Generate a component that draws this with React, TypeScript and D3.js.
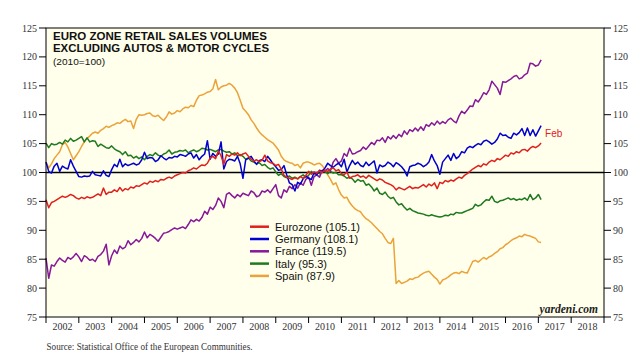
import React from 'react';
import * as d3 from 'd3';

// Monthly data, Jan 2002 .. Feb 2017 (2010=100)
const START_YEAR = 2002;

const eurozone = [
  95.3, 93.9, 94.8, 95.0, 95.3, 95.6, 95.9, 95.7, 95.9, 96.2, 96.0, 95.6,
  95.4, 95.7, 95.5, 95.8, 95.6, 95.7, 96.0, 96.3, 96.0, 97.3, 96.2, 96.6,
  96.6, 97.0, 96.7, 97.4, 96.8, 97.2, 97.0, 97.5, 97.3, 97.7, 97.6, 97.9,
  98.2, 98.0, 98.5, 98.3, 98.6, 98.4, 98.8, 98.7, 99.0, 99.2, 99.0, 99.4,
  99.6, 99.8, 100.0, 99.9, 100.3, 100.5, 100.8, 100.6, 101.0, 101.3, 101.2, 101.6,
  102.5, 102.8, 102.4, 103.7, 102.9, 101.4, 103.1, 102.8, 103.2, 103.0, 103.4, 102.9,
  103.2, 103.4, 102.8, 102.3, 102.0, 102.2, 101.9, 102.1, 103.0, 102.0, 101.7, 101.6,
  101.2, 101.4, 100.6, 99.5, 99.2, 99.0, 98.8, 99.1, 98.9, 99.3, 99.0, 99.5,
  100.2, 99.7, 100.1, 99.9, 100.3, 100.0, 100.4, 100.2, 100.6, 100.8, 100.3, 100.5,
  99.8, 99.6, 100.1, 99.0, 99.3, 99.4, 99.6, 99.2, 99.4, 99.0, 99.5, 99.2,
  98.9, 98.6, 98.9, 98.7, 98.3, 98.1, 97.9, 97.6, 97.0, 97.4, 97.2, 97.0,
  97.3, 97.6, 97.2, 97.4, 97.3, 97.6, 97.9, 97.5, 98.0, 97.7, 98.2, 97.2,
  98.3, 98.1, 98.6, 98.4, 98.7, 98.5, 98.9, 99.2, 99.0, 99.5, 99.8, 100.2,
  100.6, 100.9, 101.2, 101.0, 101.5, 101.3, 101.8, 102.1, 101.9, 102.4, 102.2, 102.6,
  103.0, 102.8, 103.4, 103.2, 103.6, 103.4, 103.9, 104.0, 103.7, 104.2, 104.5, 104.3,
  104.6, 105.1,
];

const germany = [
  101.8, 100.2, 99.9, 101.1, 101.6, 100.2, 101.1, 100.8, 100.6, 102.2, 101.1, 100.2,
  99.3, 99.2, 99.4, 99.3, 99.4, 100.2, 99.6, 99.5, 99.4, 100.3, 99.5, 99.3,
  100.5, 101.4, 101.0, 102.3, 101.0, 101.5, 101.2, 101.4, 101.6, 101.3, 101.5, 102.2,
  103.5, 102.4, 102.6, 102.5, 101.9, 102.2, 102.9, 102.5, 102.2, 102.6, 102.5, 102.8,
  102.7, 103.1, 103.0, 102.8, 103.2, 103.4, 102.5, 103.1, 102.2, 102.8, 103.2, 105.5,
  102.3, 103.3, 102.8, 103.2, 105.3, 100.6, 101.9, 102.3, 102.2, 102.0, 102.8, 101.5,
  99.0, 102.2, 102.5, 102.8, 102.0, 101.4, 102.1, 102.2, 101.9, 102.8, 102.2, 101.5,
  101.0, 100.4, 100.5, 101.2, 99.6, 98.2, 97.9, 96.8, 98.3, 98.0, 98.9, 99.4,
  99.0, 98.8, 100.0, 99.6, 100.4, 100.2, 100.8, 101.6, 101.2, 100.9, 101.3, 101.6,
  101.0, 102.3, 100.1, 101.2, 102.1, 101.4, 101.8, 101.2, 101.0, 101.8, 101.2, 101.6,
  102.0, 99.9, 101.3, 101.0, 101.2, 101.8, 101.5, 101.0, 101.7, 101.4, 101.0, 100.4,
  99.4, 101.0, 101.2, 101.3, 101.6, 101.4, 101.0, 101.3, 101.8, 103.1, 102.0, 101.2,
  99.7, 101.8, 102.4, 103.0, 102.1, 103.3, 102.4, 102.8, 103.6, 103.4, 104.2, 104.5,
  104.3, 104.7, 105.0, 104.8, 105.4, 105.6, 105.3, 104.9, 105.2, 105.8, 106.8, 106.4,
  106.5, 106.1, 105.9, 106.8, 106.5, 106.9, 107.6, 106.4, 107.7, 106.4, 107.4, 106.3,
  107.2, 108.1,
];

const france = [
  85.2, 81.7, 84.0, 83.8, 84.6, 85.2, 84.8, 84.5, 85.3, 85.0, 85.4, 86.0,
  85.4, 84.6, 85.6, 85.3, 84.8, 85.0, 84.6, 85.5, 85.8, 86.4, 87.6, 84.0,
  85.6, 86.6, 86.0, 87.3, 86.8, 87.1, 88.2, 87.5, 87.9, 88.4, 88.0, 88.6,
  89.7, 88.7, 89.3, 89.0, 88.6, 88.1, 88.8, 89.5, 89.6, 89.8, 90.1, 90.4,
  90.2, 90.4, 90.6, 90.3, 91.0, 91.8, 91.5, 91.9, 91.6, 92.2, 93.3, 92.8,
  94.0, 93.6, 94.3, 95.6, 95.0, 93.9, 96.2, 96.5, 96.0, 95.6, 96.2, 95.8,
  96.4, 96.2, 96.0, 96.8, 96.5, 95.8, 96.0, 96.8, 96.6, 97.0, 96.5, 97.2,
  97.9, 96.0, 95.6, 97.0, 96.6, 97.6, 97.2, 97.9, 97.3, 98.2, 97.8, 98.8,
  99.2, 97.8, 99.3, 99.6, 99.2, 100.4, 100.2, 100.7, 100.3, 101.8, 102.4, 101.6,
  102.0, 103.3, 102.8, 104.2, 103.2, 103.3, 103.6, 103.8, 104.4, 104.0, 104.6, 105.2,
  104.8, 105.6, 105.5, 106.0, 105.2, 106.2, 105.8, 106.4, 105.9, 106.6, 106.2, 107.2,
  106.6, 107.4, 107.1, 107.7, 107.2, 107.9, 107.3, 108.3, 108.0, 108.6, 108.2, 108.9,
  108.4, 108.8, 108.5, 109.1, 109.4, 108.9, 108.6, 109.8, 110.6, 110.2, 110.8, 111.5,
  111.4, 112.6, 112.2, 112.9, 113.8, 113.5, 114.3, 115.8, 115.2, 114.6, 113.5, 115.7,
  115.6, 115.9, 116.2, 116.6, 116.8, 116.2, 116.4, 116.9, 117.2, 118.9, 118.8, 118.4,
  118.6, 119.5,
];

const italy = [
  105.1, 104.3, 105.0, 104.8, 104.9, 105.2, 104.9, 105.6, 105.3, 105.9, 105.4, 105.6,
  105.9, 106.2, 105.3, 106.0, 105.3, 105.5, 105.4, 104.5, 104.9, 104.6, 104.3, 104.2,
  104.6, 104.1, 103.8, 103.6, 103.1, 103.6, 102.9, 103.0, 102.5, 102.8, 102.4, 102.7,
  102.2, 102.8, 103.1, 102.9, 103.4, 103.0, 102.8, 103.2, 103.4, 103.9, 103.2, 103.5,
  103.6, 103.8, 103.7, 103.9, 103.4, 103.7, 103.9, 103.6, 103.8, 104.2, 104.1, 103.9,
  104.0, 103.8, 103.6, 103.9, 104.0, 103.7, 103.5, 103.6, 103.2, 103.4, 102.9, 103.1,
  102.8, 102.3, 102.5, 102.0, 101.8, 101.5, 101.7, 101.2, 101.4, 100.9, 100.6, 100.8,
  100.1, 99.5, 99.8, 99.3, 99.1, 99.4, 99.0, 99.2, 98.9, 99.3, 99.6, 99.2,
  99.5, 100.2, 99.7, 100.0, 99.8, 100.3, 100.1, 99.8, 100.2, 99.9, 100.0, 99.6,
  99.6, 99.4, 99.0, 99.2, 98.9, 98.3, 98.8, 98.5, 98.6, 97.8, 98.0, 97.5,
  96.8, 97.3, 96.4, 96.2, 96.6, 95.9, 95.5, 95.7, 94.9, 94.4, 94.6, 94.0,
  93.5, 93.8, 93.4, 93.2, 93.0, 92.9, 92.8, 92.6, 92.5, 92.7, 92.5, 92.4,
  92.3, 92.4, 92.6, 92.5, 92.8, 92.7, 93.1, 93.0, 93.0, 93.2, 93.4, 93.6,
  93.8, 94.5, 94.2, 94.4, 94.9, 95.3, 95.2, 95.9, 95.0, 94.8, 95.1, 95.2,
  95.4, 95.6, 95.3, 95.5, 95.2, 95.4, 95.3, 95.6, 95.2, 96.2, 95.3, 95.6,
  96.2, 95.3,
];

const spain = [
  101.8, 100.8, 101.5, 102.4, 103.0, 103.6, 104.8, 105.2, 104.4, 103.3, 102.2, 102.9,
  103.6, 104.5, 105.3, 105.9, 106.3, 106.8, 107.0, 106.8, 107.3, 107.6, 108.0, 107.8,
  108.1, 108.3, 108.6, 108.5, 108.9, 109.2, 108.8, 108.9, 107.6, 109.2, 110.0, 109.9,
  110.0, 110.2, 110.3, 109.8, 109.7, 109.9, 109.4, 109.0, 109.6, 110.5, 110.1, 110.3,
  110.7, 110.5, 111.0, 111.3, 111.2, 111.6, 111.4, 112.5, 113.3, 113.4, 113.6, 113.9,
  114.0, 114.5, 116.1, 114.3, 114.8, 115.0, 115.1, 115.4, 115.1, 114.6, 113.8, 112.5,
  111.1, 110.6, 110.0, 109.1, 108.5, 107.7, 107.0, 106.5, 106.1, 105.7, 105.4, 105.1,
  104.5, 103.9, 102.8, 102.2, 101.9, 101.7, 101.6, 101.2, 101.4, 100.8, 101.6, 101.8,
  101.8, 101.6, 101.3, 101.5, 101.6, 101.2, 100.5, 99.6, 98.8, 97.9, 98.2, 97.0,
  96.1, 95.6, 95.7, 94.8, 94.2, 93.7, 93.4, 93.2, 92.5, 92.0, 91.7, 91.3,
  90.8, 90.3, 89.8, 89.4, 88.6, 87.9, 87.7, 88.6, 80.8, 81.3, 80.8, 81.0,
  81.2, 81.6, 81.5, 81.8, 81.9, 82.3, 82.6, 82.8, 82.9, 82.4, 81.9, 81.5,
  80.7, 81.4, 81.6, 81.9, 82.3, 82.6, 82.7, 82.5, 82.9, 82.7, 82.6, 83.6,
  84.6, 84.8, 84.5, 84.9, 85.3, 85.0, 85.4, 85.6, 86.0, 86.3, 86.8, 87.0,
  87.5, 87.8, 88.2, 88.5, 88.7, 89.0, 88.9, 89.3, 89.1, 89.0, 88.8, 88.6,
  88.0, 87.9,
];

const seriesNames = ['Eurozone', 'Germany', 'France', 'Italy', 'Spain'];
const latestValues = ['105.1', '108.1', '119.5', '95.3', '87.9'];
const yTicks = [75, 80, 85, 90, 95, 100, 105, 110, 115, 120, 125];
const yearLabels = [2002, 2003, 2004, 2005, 2006, 2007, 2008, 2009, 2010, 2011, 2012, 2013, 2014, 2015, 2016, 2017, 2018];
const lastMonthLabel = 'Feb';

const colors: Record<string, string> = {
  Eurozone: '#E0201E',
  Germany: '#0000D0',
  France: '#86189A',
  Italy: '#1E7A1E',
  Spain: '#EBA23A',
};

const seriesData: Record<string, number[]> = {
  Eurozone: eurozone,
  Germany: germany,
  France: france,
  Italy: italy,
  Spain: spain,
};

const drawOrder = ['Spain', 'Italy', 'France', 'Germany', 'Eurozone'];

export default function App() {
  const W = 644;
  const H = 358;
  const left = 46, right = 604, top = 28, bottom = 317;
  const x = d3.scaleLinear().domain([2002, 2019]).range([left, right]);
  const y = d3.scaleLinear().domain([75, 125]).range([bottom, top]);
  const line = d3
    .line<number>()
    .x((_, i) => x(START_YEAR + i / 12))
    .y((d) => y(d));

  const axisFont = "'Liberation Serif', 'Times New Roman', serif";
  const sansFont = "'Liberation Sans', Arial, sans-serif";
  const yearTicks = d3.range(2002, 2020);

  const euroLast = eurozone[eurozone.length - 1];
  const euroLastX = x(START_YEAR + (eurozone.length - 1) / 12);

  return (
    <svg width={W} height={H} style={{ position: 'absolute', left: 0, top: 0, background: '#fff' }}>
      <rect x={left} y={top} width={right - left} height={bottom - top} fill="#FFFFEB" />
      {/* 100 reference line */}
      <line x1={left} x2={right} y1={y(100)} y2={y(100)} stroke="#000" strokeWidth={1.3} />
      {drawOrder.map((name) => (
        <path
          key={name}
          d={line(seriesData[name]) || ''}
          fill="none"
          stroke={colors[name]}
          strokeWidth={1.5}
          strokeLinejoin="round"
        />
      ))}
      {/* frame */}
      <rect x={left} y={top} width={right - left} height={bottom - top} fill="none" stroke="#000" strokeWidth={1} />
      {/* y ticks */}
      {yTicks.map((t) => (
        <g key={t}>
          <line x1={left - 7} x2={left} y1={y(t)} y2={y(t)} stroke="#000" strokeWidth={1} />
          <line x1={right} x2={right + 7} y1={y(t)} y2={y(t)} stroke="#000" strokeWidth={1} />
          <text x={left - 9} y={y(t) + 3.5} textAnchor="end" fontFamily={axisFont} fontSize={10} fill="#333">
            {t}
          </text>
          <text x={right + 9} y={y(t) + 3.5} textAnchor="start" fontFamily={axisFont} fontSize={10} fill="#333">
            {t}
          </text>
        </g>
      ))}
      {/* x ticks */}
      {yearTicks.map((yr) => (
        <line key={yr} x1={x(yr)} x2={x(yr)} y1={bottom} y2={bottom + 6} stroke="#000" strokeWidth={1} />
      ))}
      {yearLabels.map((yr) => (
        <text key={yr} x={x(yr + 0.5)} y={329.5} textAnchor="middle" fontFamily={axisFont} fontSize={10} fill="#333">
          {yr}
        </text>
      ))}
      {/* title */}
      <text x={53} y={39.5} fontFamily={sansFont} fontWeight="bold" fontSize={11} fill="#111" textLength={214} lengthAdjust="spacingAndGlyphs">
        EURO ZONE RETAIL SALES VOLUMES
      </text>
      <text x={53} y={51.5} fontFamily={sansFont} fontWeight="bold" fontSize={11} fill="#111" textLength={216} lengthAdjust="spacingAndGlyphs">
        EXCLUDING AUTOS &amp; MOTOR CYCLES
      </text>
      <text x={53} y={65} fontFamily={sansFont} fontSize={9.5} fill="#111" textLength={52} lengthAdjust="spacingAndGlyphs">
        (2010=100)
      </text>
      {/* legend */}
      {seriesNames.map((name, i) => {
        const cy = 226.7 + i * 12.3;
        return (
          <g key={name}>
            <line x1={250} x2={269} y1={cy} y2={cy} stroke={colors[name]} strokeWidth={2.5} />
            <text x={275} y={cy + 4} fontFamily={sansFont} fontSize={11} fill="#111">
              {`${name} (${latestValues[i]})`}
            </text>
          </g>
        );
      })}
      {/* last month label */}
      <text x={euroLastX + 4} y={y(euroLast) - 6} fontFamily={sansFont} fontSize={10} fill={colors.Eurozone}>
        {lastMonthLabel}
      </text>
      {/* watermark */}
      <text x={598} y={312.5} textAnchor="end" fontFamily={axisFont} fontStyle="italic" fontWeight="bold" fontSize={11.5} fill="#222">
        yardeni.com
      </text>
      {/* source */}
      <text x={46.5} y={350} fontFamily={axisFont} fontSize={10} fill="#333" textLength={206} lengthAdjust="spacingAndGlyphs">
        Source: Statistical Office of the European Communities.
      </text>
    </svg>
  );
}
